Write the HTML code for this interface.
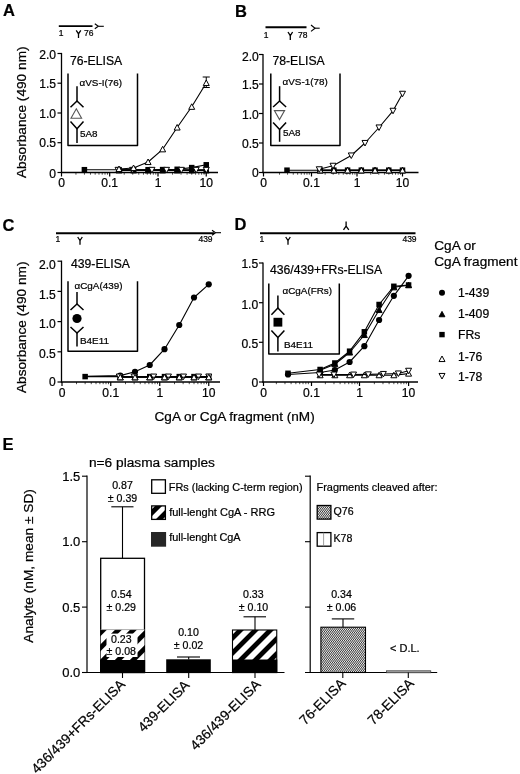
<!DOCTYPE html>
<html><head><meta charset="utf-8"><title>Figure</title>
<style>html,body{margin:0;padding:0;background:#fff}svg{display:block}</style>
</head><body>
<svg width="520" height="774" viewBox="0 0 520 774" font-family="'Liberation Sans', Arial, Helvetica, sans-serif" stroke-linecap="butt">
<style>text{stroke:#000;stroke-width:0.22px;paint-order:stroke}</style>
<defs>
<pattern id="stripe" patternUnits="userSpaceOnUse" x="0" y="8.54" width="10.607" height="10.607" patternTransform="rotate(-45)"><rect width="10.607" height="10.607" fill="#fff"/><rect y="0" width="10.607" height="4.8" fill="#000"/></pattern>
<pattern id="stripe1" patternUnits="userSpaceOnUse" x="0" y="6.9" width="10.607" height="10.607" patternTransform="rotate(-45)"><rect width="10.607" height="10.607" fill="#fff"/><rect y="0" width="10.607" height="4.8" fill="#000"/></pattern>
<pattern id="stripeL" patternUnits="userSpaceOnUse" x="0" y="2.17" width="9.9" height="9.9" patternTransform="rotate(-45)"><rect width="9.9" height="9.9" fill="#fff"/><rect y="0" width="9.9" height="4.95" fill="#000"/></pattern>
<pattern id="fine" patternUnits="userSpaceOnUse" width="1.6" height="1.6" patternTransform="rotate(55)"><rect width="1.6" height="1.6" fill="#f4f4f4"/><rect y="0" width="1.6" height="0.8" fill="#333"/></pattern>
</defs>
<rect width="520" height="774" fill="#fff"/>
<text x="3" y="16.3" font-size="16.5" text-anchor="start" font-weight="bold" fill="#000" >A</text>
<text x="235" y="17" font-size="16.5" text-anchor="start" font-weight="bold" fill="#000" >B</text>
<text x="2.5" y="230.5" font-size="16.5" text-anchor="start" font-weight="bold" fill="#000" >C</text>
<text x="234.5" y="230.3" font-size="16.5" text-anchor="start" font-weight="bold" fill="#000" >D</text>
<text x="2.5" y="449.5" font-size="16.5" text-anchor="start" font-weight="bold" fill="#000" >E</text>
<line x1="58.8" y1="26.1" x2="92.5" y2="26.1" stroke="#000" stroke-width="1.9" />
<polyline points="94.8,23.8 98.3,26.3 94.8,28.8" fill="none" stroke="#000" stroke-width="1.1" stroke-linejoin="round"/>
<polyline points="98.3,26.3 103.8,26.3" fill="none" stroke="#000" stroke-width="1.1" stroke-linejoin="round"/>
<text x="61" y="35.7" font-size="8.5" text-anchor="middle" font-weight="normal" fill="#000" >1</text>
<polyline points="76.2,30.3 78.5,33.8 80.8,30.3" fill="none" stroke="#000" stroke-width="1.3" stroke-linejoin="round"/>
<polyline points="78.5,33.8 78.5,38" fill="none" stroke="#000" stroke-width="1.3" stroke-linejoin="round"/>
<text x="88.8" y="35.7" font-size="8.5" text-anchor="middle" font-weight="normal" fill="#000" >76</text>
<line x1="61.5" y1="52.9" x2="61.5" y2="173.1" stroke="#000" stroke-width="1.3" />
<line x1="60.9" y1="172.5" x2="218" y2="172.5" stroke="#000" stroke-width="1.3" />
<line x1="57.5" y1="53.5" x2="61.5" y2="53.5" stroke="#000" stroke-width="1.2" />
<text x="56.0" y="59.0" font-size="12.1" text-anchor="end" font-weight="normal" fill="#000" >2.0</text>
<line x1="57.5" y1="83.2" x2="61.5" y2="83.2" stroke="#000" stroke-width="1.2" />
<text x="56.0" y="87.9" font-size="12.1" text-anchor="end" font-weight="normal" fill="#000" >1.5</text>
<line x1="57.5" y1="113" x2="61.5" y2="113" stroke="#000" stroke-width="1.2" />
<text x="56.0" y="117.6" font-size="12.1" text-anchor="end" font-weight="normal" fill="#000" >1.0</text>
<line x1="57.5" y1="142.7" x2="61.5" y2="142.7" stroke="#000" stroke-width="1.2" />
<text x="56.0" y="147.4" font-size="12.1" text-anchor="end" font-weight="normal" fill="#000" >0.5</text>
<line x1="57.5" y1="172.5" x2="61.5" y2="172.5" stroke="#000" stroke-width="1.2" />
<text x="56.0" y="177.6" font-size="12.1" text-anchor="end" font-weight="normal" fill="#000" >0</text>
<line x1="61.5" y1="172.5" x2="61.5" y2="176.5" stroke="#000" stroke-width="1.2" />
<text x="61.5" y="187.4" font-size="12.1" text-anchor="middle" font-weight="normal" fill="#000" >0</text>
<line x1="109.7" y1="172.5" x2="109.7" y2="176.5" stroke="#000" stroke-width="1.2" />
<text x="109.7" y="187.4" font-size="12.1" text-anchor="middle" font-weight="normal" fill="#000" >0.1</text>
<line x1="158" y1="172.5" x2="158" y2="176.5" stroke="#000" stroke-width="1.2" />
<text x="158" y="187.4" font-size="12.1" text-anchor="middle" font-weight="normal" fill="#000" >1</text>
<line x1="206.25" y1="172.5" x2="206.25" y2="176.5" stroke="#000" stroke-width="1.2" />
<text x="206.25" y="187.4" font-size="12.1" text-anchor="middle" font-weight="normal" fill="#000" >10</text>
<line x1="75.94" y1="172.5" x2="75.94" y2="174.7" stroke="#000" stroke-width="0.7" />
<line x1="84.44" y1="172.5" x2="84.44" y2="174.7" stroke="#000" stroke-width="0.7" />
<line x1="90.48" y1="172.5" x2="90.48" y2="174.7" stroke="#000" stroke-width="0.7" />
<line x1="95.16" y1="172.5" x2="95.16" y2="174.7" stroke="#000" stroke-width="0.7" />
<line x1="98.98" y1="172.5" x2="98.98" y2="174.7" stroke="#000" stroke-width="0.7" />
<line x1="102.22" y1="172.5" x2="102.22" y2="174.7" stroke="#000" stroke-width="0.7" />
<line x1="105.02" y1="172.5" x2="105.02" y2="174.7" stroke="#000" stroke-width="0.7" />
<line x1="107.49" y1="172.5" x2="107.49" y2="174.7" stroke="#000" stroke-width="0.7" />
<line x1="124.24" y1="172.5" x2="124.24" y2="174.7" stroke="#000" stroke-width="0.7" />
<line x1="132.74" y1="172.5" x2="132.74" y2="174.7" stroke="#000" stroke-width="0.7" />
<line x1="138.78" y1="172.5" x2="138.78" y2="174.7" stroke="#000" stroke-width="0.7" />
<line x1="143.46" y1="172.5" x2="143.46" y2="174.7" stroke="#000" stroke-width="0.7" />
<line x1="147.28" y1="172.5" x2="147.28" y2="174.7" stroke="#000" stroke-width="0.7" />
<line x1="150.52" y1="172.5" x2="150.52" y2="174.7" stroke="#000" stroke-width="0.7" />
<line x1="153.32" y1="172.5" x2="153.32" y2="174.7" stroke="#000" stroke-width="0.7" />
<line x1="155.79" y1="172.5" x2="155.79" y2="174.7" stroke="#000" stroke-width="0.7" />
<line x1="172.54" y1="172.5" x2="172.54" y2="174.7" stroke="#000" stroke-width="0.7" />
<line x1="181.04" y1="172.5" x2="181.04" y2="174.7" stroke="#000" stroke-width="0.7" />
<line x1="187.08" y1="172.5" x2="187.08" y2="174.7" stroke="#000" stroke-width="0.7" />
<line x1="191.76" y1="172.5" x2="191.76" y2="174.7" stroke="#000" stroke-width="0.7" />
<line x1="195.58" y1="172.5" x2="195.58" y2="174.7" stroke="#000" stroke-width="0.7" />
<line x1="198.82" y1="172.5" x2="198.82" y2="174.7" stroke="#000" stroke-width="0.7" />
<line x1="201.62" y1="172.5" x2="201.62" y2="174.7" stroke="#000" stroke-width="0.7" />
<line x1="204.09" y1="172.5" x2="204.09" y2="174.7" stroke="#000" stroke-width="0.7" />
<text x="70" y="64.5" font-size="12.2" text-anchor="start" font-weight="normal" fill="#000" >76-ELISA</text>
<polyline points="68,73.5 68,145.5 137.5,145.5 137.5,73.5" fill="none" stroke="#000" stroke-width="1.5" stroke-linejoin="round"/>
<text x="79.5" y="86" font-size="9.9" text-anchor="start" font-weight="normal" fill="#000" >αVS-I(76)</text>
<polyline points="77,86.2 77,101" fill="none" stroke="#000" stroke-width="1.5" stroke-linejoin="round"/>
<polyline points="70.5,107.3 77,101 83.5,107.3" fill="none" stroke="#000" stroke-width="1.5" stroke-linejoin="round"/>
<polyline points="70.5,121.6 77,128.8 83.5,121.6" fill="none" stroke="#000" stroke-width="1.5" stroke-linejoin="round"/>
<polyline points="77,128.8 77,143" fill="none" stroke="#000" stroke-width="1.5" stroke-linejoin="round"/>
<polygon points="76.3,108.8 81.6,118.3 71,118.3" fill="#fff" stroke="#555" stroke-width="1.1" stroke-linejoin="miter"/>
<text x="80" y="136.8" font-size="9.9" text-anchor="start" font-weight="normal" fill="#000" >5A8</text>
<polyline points="119.01,170.2 133.55,170.2 148.09,170.2 162.63,170.2 177.17,170.2 191.71,170.2 206.25,170.2" fill="none" stroke="#000" stroke-width="1.1" stroke-linejoin="round"/>
<circle cx="119.01150725657826" cy="170.2" r="2.6" fill="#000"/>
<circle cx="133.55125604714854" cy="170.2" r="2.6" fill="#000"/>
<circle cx="148.09100483771883" cy="170.2" r="2.6" fill="#000"/>
<circle cx="162.63075362828914" cy="170.2" r="2.6" fill="#000"/>
<circle cx="177.17050241885943" cy="170.2" r="2.6" fill="#000"/>
<circle cx="191.7102512094297" cy="170.2" r="2.6" fill="#000"/>
<circle cx="206.25" cy="170.2" r="2.6" fill="#000"/>
<polyline points="119.01,170.4 133.55,170.4 148.09,170.4 162.63,170.4 177.17,170.4 191.71,170.4 206.25,170.4" fill="none" stroke="#000" stroke-width="1.1" stroke-linejoin="round"/>
<polygon points="119.01,167.4 122.01,172.95 116.01,172.95" fill="#000" stroke="#000" stroke-width="1" stroke-linejoin="miter"/>
<polygon points="133.55,167.4 136.55,172.95 130.55,172.95" fill="#000" stroke="#000" stroke-width="1" stroke-linejoin="miter"/>
<polygon points="148.09,167.4 151.09,172.95 145.09,172.95" fill="#000" stroke="#000" stroke-width="1" stroke-linejoin="miter"/>
<polygon points="162.63,167.4 165.63,172.95 159.63,172.95" fill="#000" stroke="#000" stroke-width="1" stroke-linejoin="miter"/>
<polygon points="177.17,167.4 180.17,172.95 174.17,172.95" fill="#000" stroke="#000" stroke-width="1" stroke-linejoin="miter"/>
<polygon points="191.71,167.4 194.71,172.95 188.71,172.95" fill="#000" stroke="#000" stroke-width="1" stroke-linejoin="miter"/>
<polygon points="206.25,167.4 209.25,172.95 203.25,172.95" fill="#000" stroke="#000" stroke-width="1" stroke-linejoin="miter"/>
<polyline points="84.39,169.7 119.01,169.7 133.55,169.7 148.09,169.7 162.63,169.6 177.17,169.3 191.71,167.6 206.25,164.8" fill="none" stroke="#000" stroke-width="1.1" stroke-linejoin="round"/>
<rect x="81.64495660295971" y="166.95" width="5.5" height="5.5" fill="#000"/>
<rect x="116.26150725657826" y="166.95" width="5.5" height="5.5" fill="#000"/>
<rect x="130.80125604714854" y="166.95" width="5.5" height="5.5" fill="#000"/>
<rect x="145.34100483771883" y="166.95" width="5.5" height="5.5" fill="#000"/>
<rect x="159.88075362828914" y="166.85" width="5.5" height="5.5" fill="#000"/>
<rect x="174.42050241885943" y="166.55" width="5.5" height="5.5" fill="#000"/>
<rect x="188.9602512094297" y="164.85" width="5.5" height="5.5" fill="#000"/>
<rect x="203.5" y="162.05" width="5.5" height="5.5" fill="#000"/>
<polyline points="118.05,169.9 132.64,169.9 151.96,169.9 166.53,169.9 181.36,169.9 196.19,169.9 206.25,169.9" fill="none" stroke="#000" stroke-width="1.1" stroke-linejoin="round"/>
<polygon points="118.05,172.9 121.05,167.35 115.05,167.35" fill="#fff" stroke="#000" stroke-width="1" stroke-linejoin="miter"/>
<polygon points="132.64,172.9 135.64,167.35 129.64,167.35" fill="#fff" stroke="#000" stroke-width="1" stroke-linejoin="miter"/>
<polygon points="151.96,172.9 154.96,167.35 148.96,167.35" fill="#fff" stroke="#000" stroke-width="1" stroke-linejoin="miter"/>
<polygon points="166.53,172.9 169.53,167.35 163.53,167.35" fill="#fff" stroke="#000" stroke-width="1" stroke-linejoin="miter"/>
<polygon points="181.36,172.9 184.36,167.35 178.36,167.35" fill="#fff" stroke="#000" stroke-width="1" stroke-linejoin="miter"/>
<polygon points="196.19,172.9 199.19,167.35 193.19,167.35" fill="#fff" stroke="#000" stroke-width="1" stroke-linejoin="miter"/>
<polygon points="206.25,172.9 209.25,167.35 203.25,167.35" fill="#fff" stroke="#000" stroke-width="1" stroke-linejoin="miter"/>
<line x1="206.25" y1="77" x2="206.25" y2="87.5" stroke="#000" stroke-width="1" />
<line x1="202.7" y1="77" x2="209.8" y2="77" stroke="#000" stroke-width="1" />
<line x1="202.7" y1="87.5" x2="209.8" y2="87.5" stroke="#000" stroke-width="1" />
<polyline points="119.01,169 133.55,168 148.09,162 162.63,149.3 177.17,127.5 191.71,106.8 206.25,83" fill="none" stroke="#000" stroke-width="1.1" stroke-linejoin="round"/>
<polygon points="119.01,166.0 122.01,171.55 116.01,171.55" fill="#fff" stroke="#000" stroke-width="1" stroke-linejoin="miter"/>
<polygon points="133.55,165.0 136.55,170.55 130.55,170.55" fill="#fff" stroke="#000" stroke-width="1" stroke-linejoin="miter"/>
<polygon points="148.09,159.0 151.09,164.55 145.09,164.55" fill="#fff" stroke="#000" stroke-width="1" stroke-linejoin="miter"/>
<polygon points="162.63,146.3 165.63,151.85 159.63,151.85" fill="#fff" stroke="#000" stroke-width="1" stroke-linejoin="miter"/>
<polygon points="177.17,124.5 180.17,130.05 174.17,130.05" fill="#fff" stroke="#000" stroke-width="1" stroke-linejoin="miter"/>
<polygon points="191.71,103.8 194.71,109.35 188.71,109.35" fill="#fff" stroke="#000" stroke-width="1" stroke-linejoin="miter"/>
<polygon points="206.25,80.0 209.25,85.55 203.25,85.55" fill="#fff" stroke="#000" stroke-width="1" stroke-linejoin="miter"/>
<text x="0" y="0" font-size="13.7" text-anchor="middle" font-weight="normal" fill="#000" transform="translate(26,112.2) rotate(-90)">Absorbance (490 nm)</text>
<line x1="265.5" y1="27.2" x2="306.5" y2="27.2" stroke="#000" stroke-width="2" />
<polyline points="311,25.0 315,28.2 311,31.4" fill="none" stroke="#000" stroke-width="1.1" stroke-linejoin="round"/>
<polyline points="315,28.2 319.7,28.2" fill="none" stroke="#000" stroke-width="1.1" stroke-linejoin="round"/>
<text x="266" y="37.5" font-size="8.5" text-anchor="middle" font-weight="normal" fill="#000" >1</text>
<polyline points="288.0,32 290.3,35.6 292.6,32" fill="none" stroke="#000" stroke-width="1.3" stroke-linejoin="round"/>
<polyline points="290.3,35.6 290.3,39.9" fill="none" stroke="#000" stroke-width="1.3" stroke-linejoin="round"/>
<text x="302.8" y="37.5" font-size="8.5" text-anchor="middle" font-weight="normal" fill="#000" >78</text>
<line x1="263" y1="53.9" x2="263" y2="173.1" stroke="#000" stroke-width="1.3" />
<line x1="262.4" y1="172.5" x2="418.5" y2="172.5" stroke="#000" stroke-width="1.3" />
<line x1="259" y1="54.5" x2="263" y2="54.5" stroke="#000" stroke-width="1.2" />
<text x="258.8" y="60.8" font-size="12.1" text-anchor="end" font-weight="normal" fill="#000" >2.0</text>
<line x1="259" y1="84" x2="263" y2="84" stroke="#000" stroke-width="1.2" />
<text x="258.8" y="89.3" font-size="12.1" text-anchor="end" font-weight="normal" fill="#000" >1.5</text>
<line x1="259" y1="113.5" x2="263" y2="113.5" stroke="#000" stroke-width="1.2" />
<text x="258.8" y="118.5" font-size="12.1" text-anchor="end" font-weight="normal" fill="#000" >1.0</text>
<line x1="259" y1="143" x2="263" y2="143" stroke="#000" stroke-width="1.2" />
<text x="258.8" y="148.3" font-size="12.1" text-anchor="end" font-weight="normal" fill="#000" >0.5</text>
<line x1="259" y1="172.5" x2="263" y2="172.5" stroke="#000" stroke-width="1.2" />
<text x="258.8" y="177.1" font-size="12.1" text-anchor="end" font-weight="normal" fill="#000" >0</text>
<line x1="263.5" y1="172.5" x2="263.5" y2="176.5" stroke="#000" stroke-width="1.2" />
<text x="263.5" y="187.4" font-size="12.1" text-anchor="middle" font-weight="normal" fill="#000" >0</text>
<line x1="311.5" y1="172.5" x2="311.5" y2="176.5" stroke="#000" stroke-width="1.2" />
<text x="311.5" y="187.4" font-size="12.1" text-anchor="middle" font-weight="normal" fill="#000" >0.1</text>
<line x1="357" y1="172.5" x2="357" y2="176.5" stroke="#000" stroke-width="1.2" />
<text x="357" y="187.4" font-size="12.1" text-anchor="middle" font-weight="normal" fill="#000" >1</text>
<line x1="402.5" y1="172.5" x2="402.5" y2="176.5" stroke="#000" stroke-width="1.2" />
<text x="402.5" y="187.4" font-size="12.1" text-anchor="middle" font-weight="normal" fill="#000" >10</text>
<line x1="279.53" y1="172.5" x2="279.53" y2="174.7" stroke="#000" stroke-width="0.7" />
<line x1="287.56" y1="172.5" x2="287.56" y2="174.7" stroke="#000" stroke-width="0.7" />
<line x1="293.25" y1="172.5" x2="293.25" y2="174.7" stroke="#000" stroke-width="0.7" />
<line x1="297.67" y1="172.5" x2="297.67" y2="174.7" stroke="#000" stroke-width="0.7" />
<line x1="301.28" y1="172.5" x2="301.28" y2="174.7" stroke="#000" stroke-width="0.7" />
<line x1="304.34" y1="172.5" x2="304.34" y2="174.7" stroke="#000" stroke-width="0.7" />
<line x1="306.98" y1="172.5" x2="306.98" y2="174.7" stroke="#000" stroke-width="0.7" />
<line x1="309.31" y1="172.5" x2="309.31" y2="174.7" stroke="#000" stroke-width="0.7" />
<line x1="325.13" y1="172.5" x2="325.13" y2="174.7" stroke="#000" stroke-width="0.7" />
<line x1="333.16" y1="172.5" x2="333.16" y2="174.7" stroke="#000" stroke-width="0.7" />
<line x1="338.85" y1="172.5" x2="338.85" y2="174.7" stroke="#000" stroke-width="0.7" />
<line x1="343.27" y1="172.5" x2="343.27" y2="174.7" stroke="#000" stroke-width="0.7" />
<line x1="346.88" y1="172.5" x2="346.88" y2="174.7" stroke="#000" stroke-width="0.7" />
<line x1="349.94" y1="172.5" x2="349.94" y2="174.7" stroke="#000" stroke-width="0.7" />
<line x1="352.58" y1="172.5" x2="352.58" y2="174.7" stroke="#000" stroke-width="0.7" />
<line x1="354.91" y1="172.5" x2="354.91" y2="174.7" stroke="#000" stroke-width="0.7" />
<line x1="370.73" y1="172.5" x2="370.73" y2="174.7" stroke="#000" stroke-width="0.7" />
<line x1="378.76" y1="172.5" x2="378.76" y2="174.7" stroke="#000" stroke-width="0.7" />
<line x1="384.45" y1="172.5" x2="384.45" y2="174.7" stroke="#000" stroke-width="0.7" />
<line x1="388.87" y1="172.5" x2="388.87" y2="174.7" stroke="#000" stroke-width="0.7" />
<line x1="392.48" y1="172.5" x2="392.48" y2="174.7" stroke="#000" stroke-width="0.7" />
<line x1="395.54" y1="172.5" x2="395.54" y2="174.7" stroke="#000" stroke-width="0.7" />
<line x1="398.18" y1="172.5" x2="398.18" y2="174.7" stroke="#000" stroke-width="0.7" />
<line x1="400.51" y1="172.5" x2="400.51" y2="174.7" stroke="#000" stroke-width="0.7" />
<text x="272.5" y="64.5" font-size="12.2" text-anchor="start" font-weight="normal" fill="#000" >78-ELISA</text>
<polyline points="270.8,73.5 270.8,145.5 340,145.5 340,73.5" fill="none" stroke="#000" stroke-width="1.5" stroke-linejoin="round"/>
<text x="282.5" y="85.3" font-size="9.9" text-anchor="start" font-weight="normal" fill="#000" >αVS-1(78)</text>
<polyline points="279.6,86.2 279.6,101" fill="none" stroke="#000" stroke-width="1.5" stroke-linejoin="round"/>
<polyline points="273.1,107 279.6,101 286.1,107" fill="none" stroke="#000" stroke-width="1.5" stroke-linejoin="round"/>
<polyline points="273.1,122.4 279.6,129.6 286.1,122.4" fill="none" stroke="#000" stroke-width="1.5" stroke-linejoin="round"/>
<polyline points="279.6,129.6 279.6,141.8" fill="none" stroke="#000" stroke-width="1.5" stroke-linejoin="round"/>
<polygon points="274.4,110.6 284.6,110.6 279.5,119.6" fill="#fff" stroke="#555" stroke-width="1.1" stroke-linejoin="miter"/>
<text x="283" y="136" font-size="9.9" text-anchor="start" font-weight="normal" fill="#000" >5A8</text>
<polyline points="320.14,170.3 333.87,170.3 347.59,170.3 361.32,170.3 375.05,170.3 388.77,170.3 402.5,170.3" fill="none" stroke="#000" stroke-width="1.1" stroke-linejoin="round"/>
<circle cx="320.1381931863348" cy="170.3" r="2.6" fill="#000"/>
<circle cx="333.8651609886123" cy="170.3" r="2.6" fill="#000"/>
<circle cx="347.59212879088983" cy="170.3" r="2.6" fill="#000"/>
<circle cx="361.3190965931674" cy="170.3" r="2.6" fill="#000"/>
<circle cx="375.0460643954449" cy="170.3" r="2.6" fill="#000"/>
<circle cx="388.77303219772244" cy="170.3" r="2.6" fill="#000"/>
<circle cx="402.5" cy="170.3" r="2.6" fill="#000"/>
<polyline points="320.14,170.4 333.87,170.4 347.59,170.4 361.32,170.4 375.05,170.4 388.77,170.4 402.5,170.4" fill="none" stroke="#000" stroke-width="1.1" stroke-linejoin="round"/>
<polygon points="320.14,167.4 323.14,172.95 317.14,172.95" fill="#000" stroke="#000" stroke-width="1" stroke-linejoin="miter"/>
<polygon points="333.87,167.4 336.87,172.95 330.87,172.95" fill="#000" stroke="#000" stroke-width="1" stroke-linejoin="miter"/>
<polygon points="347.59,167.4 350.59,172.95 344.59,172.95" fill="#000" stroke="#000" stroke-width="1" stroke-linejoin="miter"/>
<polygon points="361.32,167.4 364.32,172.95 358.32,172.95" fill="#000" stroke="#000" stroke-width="1" stroke-linejoin="miter"/>
<polygon points="375.05,167.4 378.05,172.95 372.05,172.95" fill="#000" stroke="#000" stroke-width="1" stroke-linejoin="miter"/>
<polygon points="388.77,167.4 391.77,172.95 385.77,172.95" fill="#000" stroke="#000" stroke-width="1" stroke-linejoin="miter"/>
<polygon points="402.5,167.4 405.5,172.95 399.5,172.95" fill="#000" stroke="#000" stroke-width="1" stroke-linejoin="miter"/>
<polyline points="287,170.2 320.14,170.2 333.87,170.2 347.59,170.2 361.32,170.2 375.05,170.2 388.77,170.2 402.5,170.2" fill="none" stroke="#000" stroke-width="1.1" stroke-linejoin="round"/>
<rect x="284.25" y="167.45" width="5.5" height="5.5" fill="#000"/>
<rect x="317.3881931863348" y="167.45" width="5.5" height="5.5" fill="#000"/>
<rect x="331.1151609886123" y="167.45" width="5.5" height="5.5" fill="#000"/>
<rect x="344.84212879088983" y="167.45" width="5.5" height="5.5" fill="#000"/>
<rect x="358.5690965931674" y="167.45" width="5.5" height="5.5" fill="#000"/>
<rect x="372.2960643954449" y="167.45" width="5.5" height="5.5" fill="#000"/>
<rect x="386.02303219772244" y="167.45" width="5.5" height="5.5" fill="#000"/>
<rect x="399.75" y="167.45" width="5.5" height="5.5" fill="#000"/>
<polyline points="320.14,170.4 333.87,170.4 347.59,170.4 361.32,170.4 375.05,170.4 388.77,170.4 402.5,170.4" fill="none" stroke="#000" stroke-width="1.1" stroke-linejoin="round"/>
<polygon points="320.14,167.4 323.14,172.95 317.14,172.95" fill="#fff" stroke="#000" stroke-width="1" stroke-linejoin="miter"/>
<polygon points="333.87,167.4 336.87,172.95 330.87,172.95" fill="#fff" stroke="#000" stroke-width="1" stroke-linejoin="miter"/>
<polygon points="347.59,167.4 350.59,172.95 344.59,172.95" fill="#fff" stroke="#000" stroke-width="1" stroke-linejoin="miter"/>
<polygon points="361.32,167.4 364.32,172.95 358.32,172.95" fill="#fff" stroke="#000" stroke-width="1" stroke-linejoin="miter"/>
<polygon points="375.05,167.4 378.05,172.95 372.05,172.95" fill="#fff" stroke="#000" stroke-width="1" stroke-linejoin="miter"/>
<polygon points="388.77,167.4 391.77,172.95 385.77,172.95" fill="#fff" stroke="#000" stroke-width="1" stroke-linejoin="miter"/>
<polygon points="402.5,167.4 405.5,172.95 399.5,172.95" fill="#fff" stroke="#000" stroke-width="1" stroke-linejoin="miter"/>
<polyline points="319.25,169.3 333,165.8 351.25,155.5 365,143 379,127.5 393,110.8 402.5,93.8" fill="none" stroke="#000" stroke-width="1.1" stroke-linejoin="round"/>
<polygon points="319.25,172.3 322.25,166.75 316.25,166.75" fill="#fff" stroke="#000" stroke-width="1" stroke-linejoin="miter"/>
<polygon points="333,168.8 336.0,163.25 330.0,163.25" fill="#fff" stroke="#000" stroke-width="1" stroke-linejoin="miter"/>
<polygon points="351.25,158.5 354.25,152.95 348.25,152.95" fill="#fff" stroke="#000" stroke-width="1" stroke-linejoin="miter"/>
<polygon points="365,146.0 368.0,140.45 362.0,140.45" fill="#fff" stroke="#000" stroke-width="1" stroke-linejoin="miter"/>
<polygon points="379,130.5 382.0,124.95 376.0,124.95" fill="#fff" stroke="#000" stroke-width="1" stroke-linejoin="miter"/>
<polygon points="393,113.8 396.0,108.25 390.0,108.25" fill="#fff" stroke="#000" stroke-width="1" stroke-linejoin="miter"/>
<polygon points="402.5,96.8 405.5,91.25 399.5,91.25" fill="#fff" stroke="#000" stroke-width="1" stroke-linejoin="miter"/>
<line x1="56" y1="233.2" x2="214" y2="233.2" stroke="#000" stroke-width="2" />
<polyline points="212,230.2 215.5,232.7 212,235.2" fill="none" stroke="#000" stroke-width="1.1" stroke-linejoin="round"/>
<polyline points="215.5,232.7 221,232.7" fill="none" stroke="#000" stroke-width="1.1" stroke-linejoin="round"/>
<text x="57.8" y="242.3" font-size="8.5" text-anchor="middle" font-weight="normal" fill="#000" >1</text>
<polyline points="77.7,237 80,240.5 82.3,237" fill="none" stroke="#000" stroke-width="1.3" stroke-linejoin="round"/>
<polyline points="80,240.5 80,244.8" fill="none" stroke="#000" stroke-width="1.3" stroke-linejoin="round"/>
<text x="205.5" y="242.3" font-size="8.5" text-anchor="middle" font-weight="normal" fill="#000" >439</text>
<line x1="61.5" y1="260.59999999999997" x2="61.5" y2="382.6" stroke="#000" stroke-width="1.3" />
<line x1="60.9" y1="382" x2="220" y2="382" stroke="#000" stroke-width="1.3" />
<line x1="57.5" y1="261.2" x2="61.5" y2="261.2" stroke="#000" stroke-width="1.2" />
<text x="55.8" y="268.8" font-size="12.1" text-anchor="end" font-weight="normal" fill="#000" >2.0</text>
<line x1="57.5" y1="291.4" x2="61.5" y2="291.4" stroke="#000" stroke-width="1.2" />
<text x="55.8" y="298.9" font-size="12.1" text-anchor="end" font-weight="normal" fill="#000" >1.5</text>
<line x1="57.5" y1="321.6" x2="61.5" y2="321.6" stroke="#000" stroke-width="1.2" />
<text x="55.8" y="328.3" font-size="12.1" text-anchor="end" font-weight="normal" fill="#000" >1.0</text>
<line x1="57.5" y1="351.8" x2="61.5" y2="351.8" stroke="#000" stroke-width="1.2" />
<text x="55.8" y="358.0" font-size="12.1" text-anchor="end" font-weight="normal" fill="#000" >0.5</text>
<line x1="57.5" y1="382" x2="61.5" y2="382" stroke="#000" stroke-width="1.2" />
<text x="55.8" y="386.1" font-size="12.1" text-anchor="end" font-weight="normal" fill="#000" >0</text>
<line x1="62" y1="382" x2="62" y2="386" stroke="#000" stroke-width="1.2" />
<text x="62" y="396.9" font-size="12.1" text-anchor="middle" font-weight="normal" fill="#000" >0</text>
<line x1="110.75" y1="382" x2="110.75" y2="386" stroke="#000" stroke-width="1.2" />
<text x="110.75" y="396.9" font-size="12.1" text-anchor="middle" font-weight="normal" fill="#000" >0.1</text>
<line x1="159.75" y1="382" x2="159.75" y2="386" stroke="#000" stroke-width="1.2" />
<text x="159.75" y="396.9" font-size="12.1" text-anchor="middle" font-weight="normal" fill="#000" >1</text>
<line x1="208.75" y1="382" x2="208.75" y2="386" stroke="#000" stroke-width="1.2" />
<text x="208.75" y="396.9" font-size="12.1" text-anchor="middle" font-weight="normal" fill="#000" >10</text>
<line x1="76.5" y1="382" x2="76.5" y2="384.2" stroke="#000" stroke-width="0.7" />
<line x1="85.13" y1="382" x2="85.13" y2="384.2" stroke="#000" stroke-width="0.7" />
<line x1="91.25" y1="382" x2="91.25" y2="384.2" stroke="#000" stroke-width="0.7" />
<line x1="96.0" y1="382" x2="96.0" y2="384.2" stroke="#000" stroke-width="0.7" />
<line x1="99.88" y1="382" x2="99.88" y2="384.2" stroke="#000" stroke-width="0.7" />
<line x1="103.16" y1="382" x2="103.16" y2="384.2" stroke="#000" stroke-width="0.7" />
<line x1="106.0" y1="382" x2="106.0" y2="384.2" stroke="#000" stroke-width="0.7" />
<line x1="108.51" y1="382" x2="108.51" y2="384.2" stroke="#000" stroke-width="0.7" />
<line x1="125.5" y1="382" x2="125.5" y2="384.2" stroke="#000" stroke-width="0.7" />
<line x1="134.13" y1="382" x2="134.13" y2="384.2" stroke="#000" stroke-width="0.7" />
<line x1="140.25" y1="382" x2="140.25" y2="384.2" stroke="#000" stroke-width="0.7" />
<line x1="145.0" y1="382" x2="145.0" y2="384.2" stroke="#000" stroke-width="0.7" />
<line x1="148.88" y1="382" x2="148.88" y2="384.2" stroke="#000" stroke-width="0.7" />
<line x1="152.16" y1="382" x2="152.16" y2="384.2" stroke="#000" stroke-width="0.7" />
<line x1="155.0" y1="382" x2="155.0" y2="384.2" stroke="#000" stroke-width="0.7" />
<line x1="157.51" y1="382" x2="157.51" y2="384.2" stroke="#000" stroke-width="0.7" />
<line x1="174.5" y1="382" x2="174.5" y2="384.2" stroke="#000" stroke-width="0.7" />
<line x1="183.13" y1="382" x2="183.13" y2="384.2" stroke="#000" stroke-width="0.7" />
<line x1="189.25" y1="382" x2="189.25" y2="384.2" stroke="#000" stroke-width="0.7" />
<line x1="194.0" y1="382" x2="194.0" y2="384.2" stroke="#000" stroke-width="0.7" />
<line x1="197.88" y1="382" x2="197.88" y2="384.2" stroke="#000" stroke-width="0.7" />
<line x1="201.16" y1="382" x2="201.16" y2="384.2" stroke="#000" stroke-width="0.7" />
<line x1="204.0" y1="382" x2="204.0" y2="384.2" stroke="#000" stroke-width="0.7" />
<line x1="206.51" y1="382" x2="206.51" y2="384.2" stroke="#000" stroke-width="0.7" />
<text x="71" y="268.4" font-size="12.2" text-anchor="start" font-weight="normal" fill="#000" >439-ELISA</text>
<polyline points="68,281.3 68,351.2 137.5,351.2 137.5,281.3" fill="none" stroke="#000" stroke-width="1.5" stroke-linejoin="round"/>
<text x="74.5" y="288.6" font-size="9.9" text-anchor="start" font-weight="normal" fill="#000" >αCgA(439)</text>
<polyline points="77,292 77,304" fill="none" stroke="#000" stroke-width="1.5" stroke-linejoin="round"/>
<polyline points="70.5,310 77,304 83.5,310" fill="none" stroke="#000" stroke-width="1.5" stroke-linejoin="round"/>
<polyline points="70.5,327 77,333 83.5,327" fill="none" stroke="#000" stroke-width="1.5" stroke-linejoin="round"/>
<polyline points="77,333 77,346.5" fill="none" stroke="#000" stroke-width="1.5" stroke-linejoin="round"/>
<circle cx="77" cy="318.5" r="4.6" fill="#000"/>
<text x="80" y="343.7" font-size="9.9" text-anchor="start" font-weight="normal" fill="#000" >B4E11</text>
<polyline points="85.13,376.4 120.25,375.6 135.0,371.8 149.75,365 164.5,349.2 179.25,325 194.0,297.5 208.75,284.3" fill="none" stroke="#000" stroke-width="1.1" stroke-linejoin="round"/>
<circle cx="120.24718127478954" cy="375.6" r="3.1" fill="#000"/>
<circle cx="134.99765106232462" cy="371.8" r="3.1" fill="#000"/>
<circle cx="149.74812084985967" cy="365" r="3.1" fill="#000"/>
<circle cx="164.49859063739478" cy="349.2" r="3.1" fill="#000"/>
<circle cx="179.24906042492984" cy="325" r="3.1" fill="#000"/>
<circle cx="193.99953021246492" cy="297.5" r="3.1" fill="#000"/>
<circle cx="208.75" cy="284.3" r="3.1" fill="#000"/>
<polyline points="120.25,377.3 135.0,377.3 149.75,377.3 164.5,377.3 179.25,377.3 194.0,377.3 208.75,377.3" fill="none" stroke="#000" stroke-width="1.1" stroke-linejoin="round"/>
<polygon points="120.25,374.3 123.25,379.85 117.25,379.85" fill="#000" stroke="#000" stroke-width="1" stroke-linejoin="miter"/>
<polygon points="135.0,374.3 138.0,379.85 132.0,379.85" fill="#000" stroke="#000" stroke-width="1" stroke-linejoin="miter"/>
<polygon points="149.75,374.3 152.75,379.85 146.75,379.85" fill="#000" stroke="#000" stroke-width="1" stroke-linejoin="miter"/>
<polygon points="164.5,374.3 167.5,379.85 161.5,379.85" fill="#000" stroke="#000" stroke-width="1" stroke-linejoin="miter"/>
<polygon points="179.25,374.3 182.25,379.85 176.25,379.85" fill="#000" stroke="#000" stroke-width="1" stroke-linejoin="miter"/>
<polygon points="194.0,374.3 197.0,379.85 191.0,379.85" fill="#000" stroke="#000" stroke-width="1" stroke-linejoin="miter"/>
<polygon points="208.75,374.3 211.75,379.85 205.75,379.85" fill="#000" stroke="#000" stroke-width="1" stroke-linejoin="miter"/>
<polyline points="85.13,376.6 120.25,376.6 135.0,376.6 149.75,376.6 164.5,376.6 179.25,376.6 194.0,376.6 208.75,376.6" fill="none" stroke="#000" stroke-width="1.1" stroke-linejoin="round"/>
<rect x="82.37894148126347" y="373.85" width="5.5" height="5.5" fill="#000"/>
<rect x="117.49718127478954" y="373.85" width="5.5" height="5.5" fill="#000"/>
<rect x="132.24765106232462" y="373.85" width="5.5" height="5.5" fill="#000"/>
<rect x="146.99812084985967" y="373.85" width="5.5" height="5.5" fill="#000"/>
<rect x="161.74859063739478" y="373.85" width="5.5" height="5.5" fill="#000"/>
<rect x="176.49906042492984" y="373.85" width="5.5" height="5.5" fill="#000"/>
<rect x="191.24953021246492" y="373.85" width="5.5" height="5.5" fill="#000"/>
<rect x="206.0" y="373.85" width="5.5" height="5.5" fill="#000"/>
<polyline points="119.28,376.6 134.07,376.6 153.67,376.6 168.45,376.6 183.5,376.6 198.54,376.6 208.75,376.6" fill="none" stroke="#000" stroke-width="1.1" stroke-linejoin="round"/>
<polygon points="119.28,379.6 122.28,374.05 116.28,374.05" fill="#fff" stroke="#000" stroke-width="1" stroke-linejoin="miter"/>
<polygon points="134.07,379.6 137.07,374.05 131.07,374.05" fill="#fff" stroke="#000" stroke-width="1" stroke-linejoin="miter"/>
<polygon points="153.67,379.6 156.67,374.05 150.67,374.05" fill="#fff" stroke="#000" stroke-width="1" stroke-linejoin="miter"/>
<polygon points="168.45,379.6 171.45,374.05 165.45,374.05" fill="#fff" stroke="#000" stroke-width="1" stroke-linejoin="miter"/>
<polygon points="183.5,379.6 186.5,374.05 180.5,374.05" fill="#fff" stroke="#000" stroke-width="1" stroke-linejoin="miter"/>
<polygon points="198.54,379.6 201.54,374.05 195.54,374.05" fill="#fff" stroke="#000" stroke-width="1" stroke-linejoin="miter"/>
<polygon points="208.75,379.6 211.75,374.05 205.75,374.05" fill="#fff" stroke="#000" stroke-width="1" stroke-linejoin="miter"/>
<polyline points="120.25,377.3 135.0,377.3 149.75,377.3 164.5,377.3 179.25,377.3 194.0,377.3 208.75,377.3" fill="none" stroke="#000" stroke-width="1.1" stroke-linejoin="round"/>
<polygon points="120.25,374.3 123.25,379.85 117.25,379.85" fill="#fff" stroke="#000" stroke-width="1" stroke-linejoin="miter"/>
<polygon points="135.0,374.3 138.0,379.85 132.0,379.85" fill="#fff" stroke="#000" stroke-width="1" stroke-linejoin="miter"/>
<polygon points="149.75,374.3 152.75,379.85 146.75,379.85" fill="#fff" stroke="#000" stroke-width="1" stroke-linejoin="miter"/>
<polygon points="164.5,374.3 167.5,379.85 161.5,379.85" fill="#fff" stroke="#000" stroke-width="1" stroke-linejoin="miter"/>
<polygon points="179.25,374.3 182.25,379.85 176.25,379.85" fill="#fff" stroke="#000" stroke-width="1" stroke-linejoin="miter"/>
<polygon points="194.0,374.3 197.0,379.85 191.0,379.85" fill="#fff" stroke="#000" stroke-width="1" stroke-linejoin="miter"/>
<polygon points="208.75,374.3 211.75,379.85 205.75,379.85" fill="#fff" stroke="#000" stroke-width="1" stroke-linejoin="miter"/>
<text x="0" y="0" font-size="13.7" text-anchor="middle" font-weight="normal" fill="#000" transform="translate(26,327.3) rotate(-90)">Absorbance (490 nm)</text>
<text x="234.6" y="421" font-size="13.6" text-anchor="middle" font-weight="normal" fill="#000" >CgA or CgA fragment (nM)</text>
<line x1="260" y1="233.2" x2="415.5" y2="233.2" stroke="#000" stroke-width="2" />
<polyline points="346.1,221.4 346.1,226.2 343.5,229.8" fill="none" stroke="#000" stroke-width="1.3" stroke-linejoin="round"/>
<polyline points="346.1,226.2 348.8,229.8" fill="none" stroke="#000" stroke-width="1.3" stroke-linejoin="round"/>
<text x="261.8" y="242.3" font-size="8.5" text-anchor="middle" font-weight="normal" fill="#000" >1</text>
<polyline points="285.7,237 288,240.5 290.3,237" fill="none" stroke="#000" stroke-width="1.3" stroke-linejoin="round"/>
<polyline points="288,240.5 288,244.8" fill="none" stroke="#000" stroke-width="1.3" stroke-linejoin="round"/>
<text x="409.5" y="242.3" font-size="8.5" text-anchor="middle" font-weight="normal" fill="#000" >439</text>
<line x1="263" y1="262.4" x2="263" y2="382.6" stroke="#000" stroke-width="1.3" />
<line x1="262.4" y1="382" x2="418" y2="382" stroke="#000" stroke-width="1.3" />
<line x1="259" y1="263" x2="263" y2="263" stroke="#000" stroke-width="1.2" />
<text x="258.2" y="267.9" font-size="12.1" text-anchor="end" font-weight="normal" fill="#000" >1.5</text>
<line x1="259" y1="302.7" x2="263" y2="302.7" stroke="#000" stroke-width="1.2" />
<text x="258.2" y="309.0" font-size="12.1" text-anchor="end" font-weight="normal" fill="#000" >1.0</text>
<line x1="259" y1="342.3" x2="263" y2="342.3" stroke="#000" stroke-width="1.2" />
<text x="258.2" y="348.3" font-size="12.1" text-anchor="end" font-weight="normal" fill="#000" >0.5</text>
<line x1="259" y1="382" x2="263" y2="382" stroke="#000" stroke-width="1.2" />
<text x="258.2" y="387.1" font-size="12.1" text-anchor="end" font-weight="normal" fill="#000" >0</text>
<line x1="263.5" y1="382" x2="263.5" y2="386" stroke="#000" stroke-width="1.2" />
<text x="263.5" y="396.9" font-size="12.1" text-anchor="middle" font-weight="normal" fill="#000" >0</text>
<line x1="311.5" y1="382" x2="311.5" y2="386" stroke="#000" stroke-width="1.2" />
<text x="311.5" y="396.9" font-size="12.1" text-anchor="middle" font-weight="normal" fill="#000" >0.1</text>
<line x1="359.5" y1="382" x2="359.5" y2="386" stroke="#000" stroke-width="1.2" />
<text x="359.5" y="396.9" font-size="12.1" text-anchor="middle" font-weight="normal" fill="#000" >1</text>
<line x1="408.6" y1="382" x2="408.6" y2="386" stroke="#000" stroke-width="1.2" />
<text x="408.6" y="396.9" font-size="12.1" text-anchor="middle" font-weight="normal" fill="#000" >10</text>
<line x1="276.35" y1="382" x2="276.35" y2="384.2" stroke="#000" stroke-width="0.7" />
<line x1="284.98" y1="382" x2="284.98" y2="384.2" stroke="#000" stroke-width="0.7" />
<line x1="291.1" y1="382" x2="291.1" y2="384.2" stroke="#000" stroke-width="0.7" />
<line x1="295.85" y1="382" x2="295.85" y2="384.2" stroke="#000" stroke-width="0.7" />
<line x1="299.73" y1="382" x2="299.73" y2="384.2" stroke="#000" stroke-width="0.7" />
<line x1="303.01" y1="382" x2="303.01" y2="384.2" stroke="#000" stroke-width="0.7" />
<line x1="305.85" y1="382" x2="305.85" y2="384.2" stroke="#000" stroke-width="0.7" />
<line x1="308.36" y1="382" x2="308.36" y2="384.2" stroke="#000" stroke-width="0.7" />
<line x1="325.35" y1="382" x2="325.35" y2="384.2" stroke="#000" stroke-width="0.7" />
<line x1="333.98" y1="382" x2="333.98" y2="384.2" stroke="#000" stroke-width="0.7" />
<line x1="340.1" y1="382" x2="340.1" y2="384.2" stroke="#000" stroke-width="0.7" />
<line x1="344.85" y1="382" x2="344.85" y2="384.2" stroke="#000" stroke-width="0.7" />
<line x1="348.73" y1="382" x2="348.73" y2="384.2" stroke="#000" stroke-width="0.7" />
<line x1="352.01" y1="382" x2="352.01" y2="384.2" stroke="#000" stroke-width="0.7" />
<line x1="354.85" y1="382" x2="354.85" y2="384.2" stroke="#000" stroke-width="0.7" />
<line x1="357.36" y1="382" x2="357.36" y2="384.2" stroke="#000" stroke-width="0.7" />
<line x1="374.35" y1="382" x2="374.35" y2="384.2" stroke="#000" stroke-width="0.7" />
<line x1="382.98" y1="382" x2="382.98" y2="384.2" stroke="#000" stroke-width="0.7" />
<line x1="389.1" y1="382" x2="389.1" y2="384.2" stroke="#000" stroke-width="0.7" />
<line x1="393.85" y1="382" x2="393.85" y2="384.2" stroke="#000" stroke-width="0.7" />
<line x1="397.73" y1="382" x2="397.73" y2="384.2" stroke="#000" stroke-width="0.7" />
<line x1="401.01" y1="382" x2="401.01" y2="384.2" stroke="#000" stroke-width="0.7" />
<line x1="403.85" y1="382" x2="403.85" y2="384.2" stroke="#000" stroke-width="0.7" />
<line x1="406.36" y1="382" x2="406.36" y2="384.2" stroke="#000" stroke-width="0.7" />
<text x="270" y="274.4" font-size="12.2" text-anchor="start" font-weight="normal" fill="#000" >436/439+FRs-ELISA</text>
<polyline points="268.8,283.5 268.8,354 339.3,354 339.3,283.5" fill="none" stroke="#000" stroke-width="1.5" stroke-linejoin="round"/>
<text x="282.5" y="294" font-size="9.9" text-anchor="start" font-weight="normal" fill="#000" >αCgA(FRs)</text>
<polyline points="277.9,295.5 277.9,308" fill="none" stroke="#000" stroke-width="1.5" stroke-linejoin="round"/>
<polyline points="271.4,314.8 277.9,308 284.4,314.8" fill="none" stroke="#000" stroke-width="1.5" stroke-linejoin="round"/>
<polyline points="271.4,330.5 277.9,337.6 284.4,330.5" fill="none" stroke="#000" stroke-width="1.5" stroke-linejoin="round"/>
<polyline points="277.9,337.6 277.9,351.4" fill="none" stroke="#000" stroke-width="1.5" stroke-linejoin="round"/>
<rect x="273.5" y="317.8" width="8.8" height="8.8" fill="#000"/>
<text x="284" y="347.6" font-size="9.9" text-anchor="start" font-weight="normal" fill="#000" >B4E11</text>
<polyline points="288,374.5 320.1,372.5 334.85,370 349.6,362 364.35,346.2 379.1,320 393.85,295.8 408.6,275.8" fill="none" stroke="#000" stroke-width="1.1" stroke-linejoin="round"/>
<circle cx="288" cy="374.5" r="3.1" fill="#000"/>
<circle cx="320.0971812747896" cy="372.5" r="3.1" fill="#000"/>
<circle cx="334.84765106232464" cy="370" r="3.1" fill="#000"/>
<circle cx="349.5981208498597" cy="362" r="3.1" fill="#000"/>
<circle cx="364.3485906373948" cy="346.2" r="3.1" fill="#000"/>
<circle cx="379.09906042492986" cy="320" r="3.1" fill="#000"/>
<circle cx="393.84953021246497" cy="295.8" r="3.1" fill="#000"/>
<circle cx="408.6" cy="275.8" r="3.1" fill="#000"/>
<polyline points="320.1,370.3 334.85,364.2 349.6,352.5 364.35,335 379.1,310 393.85,287.3 408.6,285.2" fill="none" stroke="#000" stroke-width="1.1" stroke-linejoin="round"/>
<polygon points="320.1,367.3 323.1,372.85 317.1,372.85" fill="#000" stroke="#000" stroke-width="1" stroke-linejoin="miter"/>
<polygon points="334.85,361.2 337.85,366.75 331.85,366.75" fill="#000" stroke="#000" stroke-width="1" stroke-linejoin="miter"/>
<polygon points="349.6,349.5 352.6,355.05 346.6,355.05" fill="#000" stroke="#000" stroke-width="1" stroke-linejoin="miter"/>
<polygon points="364.35,332 367.35,337.55 361.35,337.55" fill="#000" stroke="#000" stroke-width="1" stroke-linejoin="miter"/>
<polygon points="379.1,307 382.1,312.55 376.1,312.55" fill="#000" stroke="#000" stroke-width="1" stroke-linejoin="miter"/>
<polygon points="393.85,284.3 396.85,289.85 390.85,289.85" fill="#000" stroke="#000" stroke-width="1" stroke-linejoin="miter"/>
<polygon points="408.6,282.2 411.6,287.75 405.6,287.75" fill="#000" stroke="#000" stroke-width="1" stroke-linejoin="miter"/>
<polyline points="288,373.3 320.1,369.5 334.85,363 349.6,351.2 364.35,331.8 379.1,304.5 393.85,286.3 408.6,285" fill="none" stroke="#000" stroke-width="1.1" stroke-linejoin="round"/>
<rect x="285.25" y="370.55" width="5.5" height="5.5" fill="#000"/>
<rect x="317.3471812747896" y="366.75" width="5.5" height="5.5" fill="#000"/>
<rect x="332.09765106232464" y="360.25" width="5.5" height="5.5" fill="#000"/>
<rect x="346.8481208498597" y="348.45" width="5.5" height="5.5" fill="#000"/>
<rect x="361.5985906373948" y="329.05" width="5.5" height="5.5" fill="#000"/>
<rect x="376.34906042492986" y="301.75" width="5.5" height="5.5" fill="#000"/>
<rect x="391.09953021246497" y="283.55" width="5.5" height="5.5" fill="#000"/>
<rect x="405.85" y="282.25" width="5.5" height="5.5" fill="#000"/>
<polyline points="320.1,375.2 334.85,375.2 349.6,375.2 364.35,375.2 379.1,375.2 393.85,375.2 408.6,373.6" fill="none" stroke="#000" stroke-width="1.1" stroke-linejoin="round"/>
<polygon points="320.1,372.2 323.1,377.75 317.1,377.75" fill="#fff" stroke="#000" stroke-width="1" stroke-linejoin="miter"/>
<polygon points="334.85,372.2 337.85,377.75 331.85,377.75" fill="#fff" stroke="#000" stroke-width="1" stroke-linejoin="miter"/>
<polygon points="349.6,372.2 352.6,377.75 346.6,377.75" fill="#fff" stroke="#000" stroke-width="1" stroke-linejoin="miter"/>
<polygon points="364.35,372.2 367.35,377.75 361.35,377.75" fill="#fff" stroke="#000" stroke-width="1" stroke-linejoin="miter"/>
<polygon points="379.1,372.2 382.1,377.75 376.1,377.75" fill="#fff" stroke="#000" stroke-width="1" stroke-linejoin="miter"/>
<polygon points="393.85,372.2 396.85,377.75 390.85,377.75" fill="#fff" stroke="#000" stroke-width="1" stroke-linejoin="miter"/>
<polygon points="408.6,370.6 411.6,376.15 405.6,376.15" fill="#fff" stroke="#000" stroke-width="1" stroke-linejoin="miter"/>
<polyline points="319.13,374.6 333.92,374.6 353.52,374.6 368.3,374.4 383.35,374 398.39,373.5 408.6,370.8" fill="none" stroke="#000" stroke-width="1.1" stroke-linejoin="round"/>
<polygon points="319.13,377.6 322.13,372.05 316.13,372.05" fill="#fff" stroke="#000" stroke-width="1" stroke-linejoin="miter"/>
<polygon points="333.92,377.6 336.92,372.05 330.92,372.05" fill="#fff" stroke="#000" stroke-width="1" stroke-linejoin="miter"/>
<polygon points="353.52,377.6 356.52,372.05 350.52,372.05" fill="#fff" stroke="#000" stroke-width="1" stroke-linejoin="miter"/>
<polygon points="368.3,377.4 371.3,371.85 365.3,371.85" fill="#fff" stroke="#000" stroke-width="1" stroke-linejoin="miter"/>
<polygon points="383.35,377.0 386.35,371.45 380.35,371.45" fill="#fff" stroke="#000" stroke-width="1" stroke-linejoin="miter"/>
<polygon points="398.39,376.5 401.39,370.95 395.39,370.95" fill="#fff" stroke="#000" stroke-width="1" stroke-linejoin="miter"/>
<polygon points="408.6,373.8 411.6,368.25 405.6,368.25" fill="#fff" stroke="#000" stroke-width="1" stroke-linejoin="miter"/>
<text x="434.3" y="249.8" font-size="13.6" text-anchor="start" font-weight="normal" fill="#000" >CgA or</text>
<text x="434.3" y="265.8" font-size="13.6" text-anchor="start" font-weight="normal" fill="#000" >CgA fragment</text>
<circle cx="442" cy="292.7" r="3" fill="#000"/>
<text x="458" y="296.7" font-size="12.2" text-anchor="start" font-weight="normal" fill="#000" >1-439</text>
<polygon points="442,311.4 444.9,316.76 439.1,316.76" fill="#000" stroke="#000" stroke-width="1" stroke-linejoin="miter"/>
<text x="458" y="317.7" font-size="12.2" text-anchor="start" font-weight="normal" fill="#000" >1-409</text>
<rect x="439.3" y="331.90000000000003" width="5.4" height="5.4" fill="#000"/>
<text x="458" y="338.7" font-size="12.2" text-anchor="start" font-weight="normal" fill="#000" >FRs</text>
<polygon points="442,356 445,361.55 439,361.55" fill="#fff" stroke="#000" stroke-width="1" stroke-linejoin="miter"/>
<text x="458" y="361.2" font-size="12.2" text-anchor="start" font-weight="normal" fill="#000" >1-76</text>
<polygon points="442,379 445,373.45 439,373.45" fill="#fff" stroke="#000" stroke-width="1" stroke-linejoin="miter"/>
<text x="458" y="380.5" font-size="12.2" text-anchor="start" font-weight="normal" fill="#000" >1-78</text>
<text x="89" y="467.3" font-size="13.7" text-anchor="start" font-weight="normal" fill="#000" >n=6 plasma samples</text>
<line x1="87" y1="475.6" x2="87" y2="673.1" stroke="#000" stroke-width="1.2" />
<line x1="86.4" y1="672.5" x2="284.5" y2="672.5" stroke="#000" stroke-width="1.2" />
<line x1="82" y1="476.2" x2="87" y2="476.2" stroke="#000" stroke-width="1.1" />
<text x="80.3" y="480.8" font-size="13" text-anchor="end" font-weight="normal" fill="#000" >1.5</text>
<line x1="82" y1="541.7" x2="87" y2="541.7" stroke="#000" stroke-width="1.1" />
<text x="80.3" y="546.3000000000001" font-size="13" text-anchor="end" font-weight="normal" fill="#000" >1.0</text>
<line x1="82" y1="607.1" x2="87" y2="607.1" stroke="#000" stroke-width="1.1" />
<text x="80.3" y="611.7" font-size="13" text-anchor="end" font-weight="normal" fill="#000" >0.5</text>
<line x1="82" y1="672.5" x2="87" y2="672.5" stroke="#000" stroke-width="1.1" />
<text x="80.3" y="677.1" font-size="13" text-anchor="end" font-weight="normal" fill="#000" >0.0</text>
<text x="0" y="0" font-size="13.7" text-anchor="middle" font-weight="normal" fill="#000" transform="translate(32.8,565.9) rotate(-90)">Analyte (nM, mean ± SD)</text>
<rect x="100.7" y="558.3" width="43.8" height="114.20000000000005" fill="#fff" stroke="#000" stroke-width="1.3"/>
<rect x="100.7" y="629.8" width="43.8" height="30.200000000000045" fill="url(#stripe1)"/>
<line x1="100.7" y1="629.6" x2="144.5" y2="629.6" stroke="#999" stroke-width="0.8" />
<rect x="106.5" y="633.6" width="31" height="23.4" fill="#fff"/>
<rect x="100.05" y="660" width="45.1" height="13.1" fill="#000"/>
<line x1="122.5" y1="506.8" x2="122.5" y2="558.3" stroke="#000" stroke-width="1.1" />
<line x1="111.3" y1="506.8" x2="133.5" y2="506.8" stroke="#000" stroke-width="1.1" />
<text x="122.5" y="488.8" font-size="10.6" text-anchor="middle" font-weight="normal" fill="#000" >0.87</text>
<text x="122.5" y="501.8" font-size="10.6" text-anchor="middle" font-weight="normal" fill="#000" >± 0.39</text>
<text x="121.3" y="598" font-size="10.6" text-anchor="middle" font-weight="normal" fill="#000" >0.54</text>
<text x="121.3" y="611.3" font-size="10.6" text-anchor="middle" font-weight="normal" fill="#000" >± 0.29</text>
<text x="121.3" y="642.7" font-size="10.6" text-anchor="middle" font-weight="normal" fill="#000" >0.23</text>
<text x="121.3" y="655.3" font-size="10.6" text-anchor="middle" font-weight="normal" fill="#000" >± 0.08</text>
<rect x="166.2" y="659.3" width="44.6" height="13.800000000000045" fill="#000"/>
<line x1="188.7" y1="657" x2="188.7" y2="659.5" stroke="#000" stroke-width="1.1" />
<line x1="177" y1="657" x2="200" y2="657" stroke="#000" stroke-width="1.1" />
<text x="188.5" y="636.3" font-size="10.6" text-anchor="middle" font-weight="normal" fill="#000" >0.10</text>
<text x="188.5" y="648.5" font-size="10.6" text-anchor="middle" font-weight="normal" fill="#000" >± 0.02</text>
<rect x="232.5" y="630" width="44.25" height="42.5" fill="url(#stripe)" stroke="#000" stroke-width="1.1"/>
<rect x="232" y="659.5" width="45.3" height="13.6" fill="#000"/>
<line x1="255" y1="616.8" x2="255" y2="630" stroke="#000" stroke-width="1.1" />
<line x1="243.5" y1="616.8" x2="266" y2="616.8" stroke="#000" stroke-width="1.1" />
<text x="253.3" y="597.5" font-size="10.6" text-anchor="middle" font-weight="normal" fill="#000" >0.33</text>
<text x="253.5" y="610.5" font-size="10.6" text-anchor="middle" font-weight="normal" fill="#000" >± 0.10</text>
<line x1="122.5" y1="672.5" x2="122.5" y2="678.0" stroke="#000" stroke-width="1.1" />
<line x1="188.7" y1="672.5" x2="188.7" y2="678.0" stroke="#000" stroke-width="1.1" />
<line x1="255" y1="672.5" x2="255" y2="678.0" stroke="#000" stroke-width="1.1" />
<rect x="151.7" y="479.8" width="13.7" height="13.5" fill="#fff" stroke="#000" stroke-width="1.3"/>
<text x="168.8" y="491.3" font-size="10.9" text-anchor="start" font-weight="normal" fill="#000" >FRs (lacking C-term region)</text>
<rect x="151.7" y="505.9" width="13.7" height="13.5" fill="url(#stripeL)" stroke="#000" stroke-width="1.3"/>
<text x="169.2" y="516.3" font-size="11" text-anchor="start" font-weight="normal" fill="#000" >full-lenght CgA - RRG</text>
<rect x="151" y="532" width="15.1" height="14.7" fill="#262626"/>
<text x="169.2" y="541.3" font-size="10.9" text-anchor="start" font-weight="normal" fill="#000" >full-lenght CgA</text>
<text x="0" y="0" font-size="13.7" text-anchor="end" font-weight="normal" fill="#000" transform="translate(126,685.3) rotate(-45)">436/439+FRs-ELISA</text>
<text x="0" y="0" font-size="13.7" text-anchor="end" font-weight="normal" fill="#000" transform="translate(190.3,686) rotate(-45)">439-ELISA</text>
<text x="0" y="0" font-size="13.7" text-anchor="end" font-weight="normal" fill="#000" transform="translate(261.5,685.3) rotate(-45)">436/439-ELISA</text>
<line x1="310.2" y1="475.6" x2="310.2" y2="673.1" stroke="#000" stroke-width="1.2" />
<line x1="305" y1="672.5" x2="437.2" y2="672.5" stroke="#000" stroke-width="1.2" />
<line x1="305" y1="476.2" x2="310.2" y2="476.2" stroke="#000" stroke-width="1.1" />
<line x1="305" y1="541.7" x2="310.2" y2="541.7" stroke="#000" stroke-width="1.1" />
<line x1="305" y1="607.1" x2="310.2" y2="607.1" stroke="#000" stroke-width="1.1" />
<text x="316.5" y="491" font-size="10.95" text-anchor="start" font-weight="normal" fill="#000" >Fragments cleaved after:</text>
<rect x="317.2" y="505.5" width="13.7" height="13.6" fill="url(#fine)" stroke="#000" stroke-width="1.3"/>
<text x="333.5" y="515.3" font-size="10.6" text-anchor="start" font-weight="normal" fill="#000" >Q76</text>
<rect x="317.2" y="532.6" width="13.7" height="13.6" fill="#fff" stroke="#000" stroke-width="1.3"/>
<line x1="323.6" y1="532.6" x2="323.6" y2="546.2" stroke="#888" stroke-width="0.8" />
<text x="333.5" y="541.7" font-size="10.6" text-anchor="start" font-weight="normal" fill="#000" >K78</text>
<rect x="320.9" y="627.2" width="44.6" height="45.299999999999955" fill="url(#fine)" stroke="#000" stroke-width="1.1"/>
<line x1="343" y1="618.9" x2="343" y2="627.2" stroke="#000" stroke-width="1.1" />
<line x1="331.8" y1="618.9" x2="354.2" y2="618.9" stroke="#000" stroke-width="1.1" />
<text x="341.5" y="597.8" font-size="10.6" text-anchor="middle" font-weight="normal" fill="#000" >0.34</text>
<text x="341.5" y="611" font-size="10.6" text-anchor="middle" font-weight="normal" fill="#000" >± 0.06</text>
<text x="390" y="651.8" font-size="11" text-anchor="start" font-weight="normal" fill="#000" >&lt; D.L.</text>
<rect x="386.4" y="670.8" width="44.4" height="2" fill="#aaa" stroke="#333" stroke-width="0.7"/>
<line x1="342.8" y1="672.5" x2="342.8" y2="678.0" stroke="#000" stroke-width="1.1" />
<line x1="408.3" y1="672.5" x2="408.3" y2="678.0" stroke="#000" stroke-width="1.1" />
<text x="0" y="0" font-size="13.7" text-anchor="end" font-weight="normal" fill="#000" transform="translate(346.5,684.3) rotate(-45)">76-ELISA</text>
<text x="0" y="0" font-size="13.7" text-anchor="end" font-weight="normal" fill="#000" transform="translate(414.8,684.3) rotate(-45)">78-ELISA</text>
</svg>
</body></html>
